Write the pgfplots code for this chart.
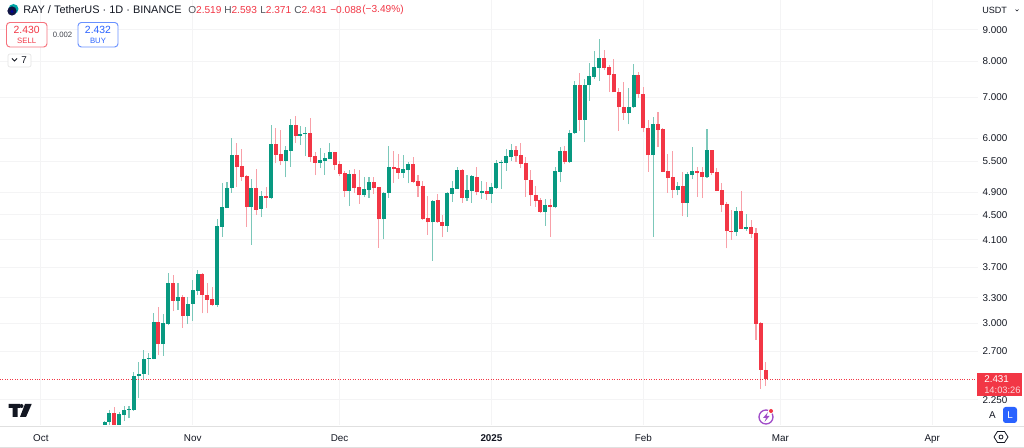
\documentclass[border=0pt]{standalone}
\usepackage{fontspec}
\setmainfont{Liberation Sans}
\usepackage{pgfplots}
\usepackage{pgfplotstable}
\pgfplotsset{compat=1.18}

\definecolor{upc}{HTML}{089981}
\definecolor{dnc}{HTML}{F23645}
\definecolor{upw}{HTML}{7CC8BA}
\definecolor{dnw}{HTML}{F8A0A8}
\definecolor{ink}{HTML}{131722}
\definecolor{gridc}{HTML}{F4F4F5}
\definecolor{buyc}{HTML}{2962FF}
\definecolor{boltc}{HTML}{A04CC8}

% d = days from 1 Nov 2024
\pgfplotstableread{
d o h l c
-18 2.04 2.078 2.01 2.073
-17 2.073 2.165 2.047 2.143
-15 2.04 2.151 2.01 2.132
-14 2.126 2.198 2.08 2.163
-13 2.167 2.198 2.10 2.173
-12 2.165 2.50 2.159 2.46
-11 2.457 2.596 2.262 2.481
-10 2.479 2.711 2.423 2.624
-9 2.621 2.679 2.469 2.631
-8 2.624 3.111 2.618 3.014
-6 2.773 3.103 2.652 2.995
-5 2.987 3.614 2.976 3.481
-3 3.259 3.481 3.15 3.308
-1 3.08 3.312 2.987 3.226
0 3.224 3.525 3.026 3.396
1 3.387 3.66 3.333 3.602
5 3.21 4.426 3.191 4.317
6 4.306 5.066 4.147 4.63
7 4.618 5.097 4.613 4.972
8 4.972 5.997 4.89 5.634
12 4.636 5.148 4.02 4.972
14 4.606 4.927 4.46 4.83
16 4.79 6.305 4.78 5.871
19 5.508 5.825 5.18 5.74
20 5.725 6.447 5.39 6.31
22 6.055 6.29 5.85 6.10
23 6.094 6.265 5.61 6.117
26 5.47 5.79 5.36 5.528
27 5.515 5.67 5.23 5.57
28 5.555 5.885 5.54 5.69
32 4.93 5.325 4.65 5.25
35 4.85 5.18 4.81 4.95
36 4.94 5.18 4.80 5.09
39 4.426 4.91 4.106 4.89
40 4.885 5.825 4.80 5.385
43 5.27 5.634 5.17 5.34
44 5.325 5.495 5.066 5.44
49 4.375 4.759 3.79 4.745
52 4.317 4.91 4.225 4.885
53 4.875 5.11 4.73 4.975
54 4.965 5.385 4.95 5.32
56 4.79 5.225 4.74 4.935
57 4.93 5.225 4.71 5.20
59 4.89 5.11 4.78 4.92
61 4.87 5.066 4.70 4.995
62 4.98 5.528 4.965 5.47
63 5.46 5.528 4.96 5.485
64 5.47 5.755 5.305 5.605
65 5.59 5.87 5.515 5.735
72 4.55 4.78 4.317 4.67
74 4.63 5.38 4.61 5.30
75 5.285 5.81 5.09 5.71
77 5.485 6.186 5.475 6.11
78 6.11 7.44 6.094 7.325
80 6.423 7.48 5.91 7.325
81 7.315 7.94 6.905 7.575
82 7.555 8.32 7.49 7.845
83 7.815 8.70 7.435 8.10
89 6.60 7.235 6.32 6.745
90 6.735 7.93 6.725 7.595
94 5.63 6.505 4.147 6.32
99 4.94 5.095 4.84 5.01
101 4.71 5.28 4.47 5.25
102 5.225 5.80 5.14 5.31
105 5.18 6.20 5.165 5.735
111 4.22 4.63 4.16 4.57
113 4.27 4.51 4.24 4.30
}\upT

\pgfplotstableread{
d o h l c
-16 2.143 2.192 2.01 2.034
-7 3.014 3.191 2.661 2.773
-4 3.481 3.587 3.138 3.259
-2 3.308 3.333 2.949 3.08
2 3.602 3.615 3.111 3.333
3 3.333 3.489 3.111 3.271
4 3.283 3.43 3.20 3.21
9 5.634 5.90 5.0 5.391
10 5.40 5.762 5.11 5.19
11 5.205 5.22 4.306 4.641
13 4.972 5.345 4.50 4.583
15 4.83 4.99 4.623 4.79
17 5.871 6.226 5.46 5.634
18 5.655 6.186 5.42 5.508
21 6.31 6.52 5.90 6.05
24 6.117 6.47 5.49 5.59
25 5.61 5.70 5.225 5.47
29 5.69 5.70 5.325 5.435
30 5.45 5.515 5.205 5.25
31 5.27 5.31 4.81 4.93
33 5.25 5.34 4.88 4.975
34 4.99 5.325 4.69 4.85
37 5.097 5.18 4.87 4.975
38 4.99 5.0 3.98 4.426
41 5.385 5.72 5.08 5.345
42 5.36 5.655 5.15 5.27
45 5.44 5.585 5.066 5.09
46 5.11 5.225 4.81 5.01
47 5.02 5.11 4.42 4.435
48 4.447 4.83 4.18 4.375
50 4.75 4.87 4.37 4.375
51 4.387 4.50 4.14 4.317
55 5.325 5.34 4.71 4.79
58 5.18 5.38 4.84 4.90
60 4.92 5.09 4.76 4.875
66 5.735 5.825 5.495 5.61
67 5.63 5.90 5.36 5.45
68 5.47 5.60 4.82 5.129
69 5.135 5.325 4.66 4.84
70 4.85 5.01 4.64 4.745
71 4.765 4.79 4.53 4.55
73 4.665 4.78 4.147 4.635
76 5.72 5.825 5.44 5.485
79 7.325 7.65 6.17 6.423
84 8.10 8.35 7.747 7.80
85 7.845 7.89 7.14 7.60
86 7.62 8.06 7.12 7.125
87 7.14 7.235 6.17 6.735
88 6.745 7.415 6.423 6.60
91 7.595 7.70 6.965 7.07
92 7.08 7.26 6.13 6.226
93 6.24 6.423 5.29 5.63
95 6.32 6.61 5.80 6.19
96 6.21 6.226 5.28 5.29
97 5.31 5.65 4.89 5.165
98 5.18 5.71 4.79 4.94
100 5.02 5.29 4.48 4.71
103 5.31 5.39 4.82 5.27
104 5.28 5.39 4.79 5.185
106 5.735 5.74 5.225 5.27
107 5.28 5.37 4.92 4.93
108 4.94 5.066 4.55 4.67
109 4.68 4.73 3.97 4.235
110 4.24 4.583 4.096 4.22
112 4.57 4.92 4.26 4.27
114 4.30 4.415 4.125 4.195
115 4.20 4.28 2.82 2.99
116 2.995 3.014 2.343 2.516
117 2.519 2.593 2.371 2.431
}\downT

\pgfplotsset{
  wick/.style={draw=none, mark=none, forget plot,
    error bars/.cd, y dir=plus, y explicit, error mark=none,
    error bar style={draw=#1, line width=0.8pt, solid}},
  body/.style={draw=none, mark=none, forget plot,
    error bars/.cd, y dir=plus, y explicit, error mark=none,
    error bar style={draw=#1, line width=3pt, solid}},
}

\newcommand{\txt}[1]{\fontsize{#1}{#1}\selectfont}

\begin{document}
\begin{tikzpicture}
\path[use as bounding box, fill=white] (0,0) rectangle (768pt,336pt);

\begin{axis}[
  at={(0pt,17.25pt)}, anchor=south west,
  scale only axis, width=733.5pt, height=318.75pt,
  ymode=log,
  xmin=-39.34, xmax=160.33, ymin=2.047, ymax=10.07,
  axis line style={draw=none},
  major tick length=0pt,
  xmajorgrids, ymajorgrids,
  grid style={gridc, line width=0.75pt},
  xtick={-31,0,30,61,92,120,151},
  xticklabels={Oct,Nov,Dec,\textbf{2025},Feb,Mar,Apr},
  xticklabel style={font=\txt{7.4pt}, text=ink, anchor=base, yshift=-12.2pt},
  ytick={9,8,7,6,5.5,4.9,4.5,4.1,3.7,3.3,3,2.7,2.25},
  yticklabels={9.000,8.000,7.000,6.000,5.500,4.900,4.500,4.100,3.700,3.300,3.000,2.700,2.250},
  yticklabel pos=right,
  yticklabel style={font=\txt{7.4pt}, text=ink, anchor=west, xshift=0pt},
  log basis y=10,
  minor tick num=0,
  ]
  \addplot[draw=none, mark=none, forget plot] coordinates {(0,3)};
  \addplot[wick=upw] table[x=d, y=l, y error plus expr=\thisrow{h}-\thisrow{l}] {\upT};
  \addplot[wick=dnw] table[x=d, y=l, y error plus expr=\thisrow{h}-\thisrow{l}] {\downT};
  \addplot[draw=dnc, mark=none, line width=0.75pt, dash pattern=on 0.75pt off 1.1pt, forget plot] coordinates {(-39.34,2.431)(160.33,2.431)};
  \addplot[body=upc] table[x=d, y=o, y error plus expr=\thisrow{c}-\thisrow{o}] {\upT};
  \addplot[body=dnc] table[x=d, y=c, y error plus expr=\thisrow{o}-\thisrow{c}] {\downT};
\end{axis}

% page furniture, in pixels of the 1024x448 frame
\begin{scope}[x=0.75pt, y=-0.75pt, shift={(0pt,336pt)}]
  \draw[black!12, line width=0.6pt] (0,426) -- (1024,426);
  \draw[black!12, line width=0.6pt] (0,447) -- (1024,447);

  % header
  \fill[teal!70!cyan] (13.5,9) circle[radius=5];
  \fill[ink!85!blue] (12,11) circle[radius=4.6];
  \fill[blue!60!black] (12,11.5) circle[radius=1.6];
  \node[anchor=west, inner sep=0, text=ink, font=\txt{8.2pt}] at (23,10) {RAY / TetherUS · 1D · BINANCE};
  \begin{scope}[every node/.style={anchor=west, inner sep=0, font=\txt{7.6pt}}]
    \node at (188,10) {\textcolor{ink!75}{O}\textcolor{dnc}{2.519}};
    \node at (224,10) {\textcolor{ink!75}{H}\textcolor{dnc}{2.593}};
    \node at (260,10) {\textcolor{ink!75}{L}\textcolor{dnc}{2.371}};
    \node at (294,10) {\textcolor{ink!75}{C}\textcolor{dnc}{2.431}};
    \node[text=dnc] at (330,10) {−0.088};
    \node[text=dnc] at (362,10) {(−3.49\%)};
  \end{scope}

  % sell and buy
  \draw[dnc!70, line width=0.7pt, rounded corners=2.5pt, fill=white] (6.5,22.5) rectangle (47,47);
  \node[inner sep=0, text=dnc, font=\txt{7.8pt}] at (26.7,30) {2.430};
  \node[inner sep=0, text=dnc, font=\txt{5.8pt}] at (26.7,41) {SELL};
  \node[inner sep=0, text=ink!80, font=\txt{5.8pt}] at (62.5,35) {0.002};
  \draw[buyc!70, line width=0.7pt, rounded corners=2.5pt, fill=white] (78,22.5) rectangle (118,47);
  \node[inner sep=0, text=buyc, font=\txt{7.8pt}] at (98,30) {2.432};
  \node[inner sep=0, text=buyc, font=\txt{5.8pt}] at (98,41) {BUY};
  \draw[black!10, line width=0.5pt, rounded corners=1.5pt, fill=white] (8,54) rectangle (31,67);
  \draw[ink, line width=0.6pt] (12,58.5) -- (14.5,61) -- (17,58.5);
  \node[inner sep=0, text=ink, font=\txt{7.4pt}] at (24,60) {7};

  % right panel
  \node[anchor=west, inner sep=0, text=ink, font=\txt{6.8pt}] at (982,10) {USDT};
  \draw[ink, line width=0.5pt] (1015.5,9.5) -- (1017,11) -- (1018.5,9.5);
  \fill[dnc] (977,373) rectangle (1022,396);
  \node[anchor=west, inner sep=0, text=white, font=\txt{7.4pt}] at (984,379.5) {2.431};
  \node[anchor=west, inner sep=0, text=white!80!dnc, font=\txt{7.0pt}] at (984,390) {14:03:26};
  \node[inner sep=0, text=ink, font=\txt{7.4pt}] at (992.5,415) {A};
  \fill[buyc, rounded corners=2pt] (1003,407) rectangle (1017,423);
  \node[inner sep=0, text=white, font=\txt{7.4pt}] at (1010,415) {L};
  \draw[ink, line width=0.6pt] (994,437) -- (997.5,431.5) -- (1004.5,431.5) -- (1008,437) -- (1004.5,442.5) -- (997.5,442.5) -- cycle;
  \draw[ink, line width=0.6pt] (1001,437) circle[radius=2];

  % logo
  \fill[ink] (8.7,404) rectangle (20,408) (12.5,408) rectangle (17.5,417);
  \fill[ink] (21.5,406) circle[radius=2];
  \fill[ink] (20,417) -- (25,404) -- (31.7,404) -- (26,417) -- cycle;

  % lightning badge
  \draw[boltc, line width=1pt] (766,417) circle[radius=7];
  \fill[boltc] (768,412) -- (763,418) -- (766,418) -- (764.5,422) -- (769.5,416) -- (766.5,416) -- cycle;
  \fill[white] (771,411) circle[radius=3];
  \fill[dnc] (771,411) circle[radius=2];
\end{scope}
\end{tikzpicture}
\end{document}
